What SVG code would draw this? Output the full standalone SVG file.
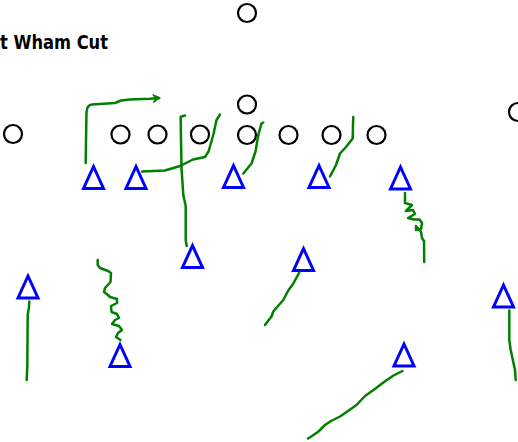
<svg xmlns="http://www.w3.org/2000/svg" width="518" height="442" viewBox="0 0 518 442">
<style>
.o{fill:none;stroke:#000;stroke-width:2.2}
.x{fill:none;stroke:#0000ff;stroke-width:3;stroke-linejoin:miter}
.r{fill:none;stroke:#008000;stroke-width:2.5;stroke-linejoin:round;stroke-linecap:round}
.t{font-family:"DejaVu Sans Condensed","DejaVu Sans","Liberation Sans",sans-serif;font-weight:bold;font-size:19px;fill:#000}
</style>
<defs>
<path id="tri" d="M0,-11 L10,11 L-10,11 Z"/>
<marker id="ah" markerWidth="10" markerHeight="10" refX="7" refY="5" orient="auto" markerUnits="userSpaceOnUse">
<path d="M1,1 L8,5 L1,9 L3.5,5 Z" fill="#008000" stroke="#008000" stroke-width="1"/>
</marker>
</defs>
<rect width="518" height="442" fill="#fff"/>
<text id="title" class="t" x="0" y="49" textLength="108" lengthAdjust="spacingAndGlyphs">t Wham Cut</text>
<g id="defense">
<circle id="d1" class="o" cx="247" cy="13" r="9"/>
<circle id="d2" class="o" cx="247" cy="104.5" r="9"/>
<circle id="d3" class="o" cx="13" cy="134" r="9"/>
<circle id="d4" class="o" cx="120.5" cy="134.5" r="9"/>
<circle id="d5" class="o" cx="157.5" cy="134.5" r="9"/>
<circle id="d6" class="o" cx="200" cy="134.5" r="9"/>
<circle id="d7" class="o" cx="247" cy="135" r="9"/>
<circle id="d8" class="o" cx="288.5" cy="135" r="9"/>
<circle id="d9" class="o" cx="331.5" cy="135" r="9"/>
<circle id="d10" class="o" cx="376.5" cy="135" r="9"/>
<circle id="d11" class="o" cx="518" cy="112" r="9"/>
</g>
<g id="offense">
<use id="p1" href="#tri" class="x" x="93.5" y="177.5"/>
<use id="p2" href="#tri" class="x" x="136" y="177.5"/>
<use id="p3" href="#tri" class="x" x="233.5" y="176.5"/>
<use id="p4" href="#tri" class="x" x="192.5" y="256.5"/>
<use id="p5" href="#tri" class="x" x="319" y="176.5"/>
<use id="p6" href="#tri" class="x" x="400.5" y="178"/>
<use id="p7" href="#tri" class="x" x="303.5" y="259.5"/>
<use id="p8" href="#tri" class="x" x="28" y="287"/>
<use id="p9" href="#tri" class="x" x="120" y="355.5"/>
<use id="p10" href="#tri" class="x" x="404" y="355"/>
<use id="p11" href="#tri" class="x" x="503.5" y="296"/>
</g>
<g id="connectors">
<path class="r" marker-end="url(#ah)" d="M85.7,163 L86,140 L86.5,112 Q87,105 92,104.5 L115,103 L121,100.5 L130,99.5 L150,98.8 L159,98"/>
<path class="r" d="M142,171.5 L165,170.5 L180,166 L193,159.5 L205,157 L208.5,151.5 L211,143 L213.5,134 L216.5,120 L220,114.5"/>
<path class="r" d="M185,115.5 L180.7,116.7 L181,140 L181.5,168 L183.3,195 L185.7,206 L185.7,240 L186.7,246"/>
<path class="r" d="M243.3,173.5 L251.5,163.5 L255.5,151.5 L258.3,135 L261.5,123.5 L263.3,122.5"/>
<path class="r" d="M330,176.5 L336,165 L340,153.5 L346,147 L352.7,138.5 L353,125 L353.3,117"/>
<path class="r" d="M405,193 L405,203 L412,205 L406,211 L413,210 L415,214 L408,218 L414,219.5 L419.5,219.5 L422,223 L421,229 L416,230 L416,226 L421,232 L422,238 L424,241 L424.2,262"/>
<path class="r" d="M299.3,272.5 L293.3,283.5 L288,291 L283.3,300 L278,306 L273.3,311.5 L271.5,316.5 L268,321 L265,325"/>
<path class="r" d="M29.3,301.5 L29,307 L27.7,315 L27.3,366.5 L26.7,380"/>
<path class="r" d="M97.7,260 L97.7,265 L100,268 L108,271 L111,273 L110.5,282 L105,288 L104,292 L108,295 L110,297 L117,299 L117,303 L111,306 L111.5,312 L117,314 L119,318 L115,320 L112,324 L119,326 L122,330 L118,333 L116,337 L120.5,340"/>
<path class="r" d="M402.5,371 L393.5,375.5 L384,382 L373.5,390 L365,396 L356.5,405 L348,411 L340,416.5 L331,421 L325,425 L318.5,431.5 L312,436 L308,438.5"/>
<path class="r" d="M509.3,310.5 L509.3,340 L510.7,350 L515,370 L515.7,380"/>
</g>
</svg>
